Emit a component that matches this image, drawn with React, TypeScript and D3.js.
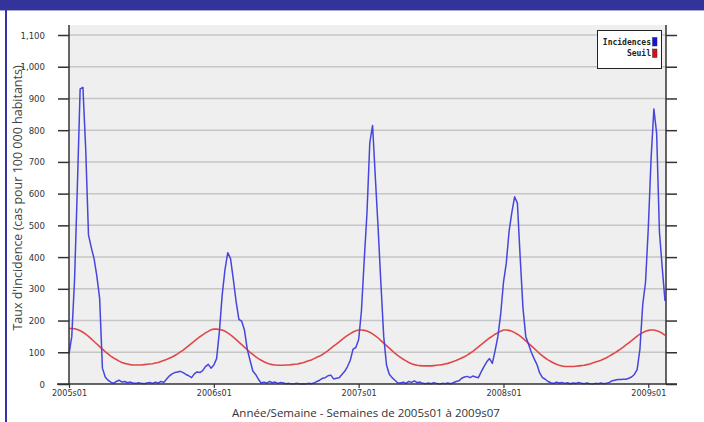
import React, { useEffect, useRef } from "react";
import * as d3 from "d3";

// week index 0 = 2005s01 ... 214 = 2009s07
const yearLabels = ["2005s01", "2006s01", "2007s01", "2008s01", "2009s01"];
const yearStartWeek = [0, 52, 104, 156, 208];
const yTicks = [0, 100, 200, 300, 400, 500, 600, 700, 800, 900, 1000, 1100];

const incidences = [
  // 2005
  94, 150, 330, 620, 930, 935, 740, 470, 430, 395, 340, 270, 50, 22, 12, 6, 2, 8, 12, 6,
  8, 4, 6, 3, 2, 4, 2, 1, 3, 5, 2, 6, 3, 8, 5, 15, 25, 32, 36, 38,
  40, 36, 30, 26, 20, 32, 38, 36, 42, 55, 62, 50,
  // 2006
  60, 80, 165, 280, 360, 414, 395, 330, 260, 204, 198, 170, 110, 75, 41, 30, 15, 3, 6, 3,
  8, 4, 6, 2, 5, 3, 1, 2, 0, 1, 2, 0, 1, 0, 2, 1, 3, 8, 12, 18,
  20, 26, 28, 16, 18, 20, 30, 40, 55, 75, 110, 115,
  // 2007
  140, 230, 390, 540, 760, 815, 650, 490, 315, 150, 60, 31, 20, 12, 4, 3, 6, 2, 8, 5,
  10, 4, 6, 2, 1, 3, 1, 4, 2, 0, 2, 1, 3, 1, 4, 8, 10, 18, 22, 24,
  20, 25, 22, 20, 38, 55, 70, 80, 65, 105, 150, 220,
  // 2008
  320, 380, 480, 540, 590, 570, 400, 240, 150, 125, 100, 80, 62, 35, 20, 15, 8, 4, 2, 6,
  3, 5, 2, 4, 1, 3, 2, 5, 2, 1, 3, 1, 0, 2, 1, 3, 1, 2, 5, 10,
  12, 14, 14, 15, 15, 18, 22, 30, 45, 110, 250, 320,
  // 2009
  490, 710, 867, 790, 480, 367, 262,
];

const seuil = [
  // 2005
  175, 175, 174, 172, 168, 163, 157, 150, 142, 134, 126, 118, 110, 102, 95, 88, 82, 77, 72, 68,
  65, 63, 61, 60, 60, 60, 60, 61, 62, 63, 64, 66, 68, 71, 74, 77, 81, 85, 90, 95,
  101, 107, 114, 121, 128, 135, 142, 149, 155, 161, 166, 171,
  // 2006
  173, 173, 172, 170, 166, 161, 155, 148, 140, 132, 124, 116, 108, 100, 93, 86, 80, 75, 70, 66,
  63, 61, 60, 59, 59, 59, 60, 60, 61, 62, 63, 65, 67, 70, 73, 76, 80, 84, 88, 93,
  99, 105, 112, 119, 126, 133, 140, 147, 153, 159, 164, 168,
  // 2007
  170, 170, 169, 167, 163, 158, 152, 145, 137, 129, 121, 113, 105, 97, 90, 84, 78, 73, 68, 64,
  61, 59, 58, 57, 57, 57, 57, 58, 59, 60, 61, 63, 65, 68, 71, 74, 78, 82, 86, 91,
  97, 103, 110, 117, 124, 131, 138, 145, 151, 157, 162, 166,
  // 2008
  170, 170, 169, 166, 162, 157, 151, 144, 136, 128, 120, 112, 104, 96, 89, 82, 76, 71, 66, 62,
  59, 57, 55, 55, 55, 55, 56, 57, 58, 59, 61, 63, 66, 69, 72, 75, 79, 83, 88, 93,
  98, 104, 110, 116, 123, 130, 137, 144, 151, 157, 162, 166,
  // 2009
  169, 170, 170, 168, 165, 160, 153,
];

export default function App() {
  const ref = useRef<SVGSVGElement | null>(null);

  useEffect(() => {
    const width = 704;
    const height = 422;
    const svg = d3.select(ref.current).attr("width", width).attr("height", height);
    svg.selectAll("*").remove();

    const left = 69;
    const right = 666;
    const top = 25;
    const bottom = 384;
    const narrow = "'Liberation Sans Narrow', 'Arial Narrow', 'DejaVu Sans Condensed', sans-serif";

    const x = d3
      .scaleLinear()
      .domain([0, incidences.length - 1])
      .range([left, right - 1]);
    const y = d3.scaleLinear().domain([0, 1100]).range([bottom, 35]);

    // page frame
    svg.append("rect").attr("width", width).attr("height", height).attr("fill", "#ffffff");
    svg.append("rect").attr("width", width).attr("height", 10).attr("fill", "#333399");
    svg.append("rect").attr("y", 10).attr("width", width).attr("height", 1).attr("fill", "#a8a8d8");
    svg.append("rect").attr("x", 5).attr("y", 10).attr("width", 2).attr("height", height - 10).attr("fill", "#3434a4");

    // plot background
    svg
      .append("rect")
      .attr("x", left)
      .attr("y", top)
      .attr("width", right - left)
      .attr("height", bottom - top)
      .attr("fill", "#efefef");

    // grid
    svg
      .append("g")
      .selectAll("line")
      .data(yTicks.filter((d) => d > 0))
      .join("line")
      .attr("x1", left)
      .attr("x2", right)
      .attr("y1", (d) => y(d))
      .attr("y2", (d) => y(d))
      .attr("stroke", "#c6c6c6")
      .attr("stroke-width", 1.5);

    // lines
    const line = d3
      .line<number>()
      .x((d, i) => x(i))
      .y((d) => y(d));

    svg
      .append("path")
      .datum(seuil)
      .attr("d", line)
      .attr("fill", "none")
      .attr("stroke", "#e04848")
      .attr("stroke-width", 1.6);

    svg
      .append("path")
      .datum(incidences)
      .attr("d", line)
      .attr("fill", "none")
      .attr("stroke", "#4646de")
      .attr("stroke-width", 1.5)
      .attr("stroke-linejoin", "round");

    // axes
    const yAxis = svg
      .append("g")
      .attr("transform", `translate(${left},0)`)
      .call(
        d3
          .axisLeft(y)
          .tickValues(yTicks)
          .tickSize(11)
          .tickSizeOuter(0)
          .tickPadding(13)
          .tickFormat((d) => d3.format(",")(d as number))
      );
    yAxis.select(".domain").remove();
    yAxis.selectAll("line").attr("stroke", "#333").attr("stroke-width", 1.5);
    yAxis
      .selectAll("text")
      .attr("fill", "#333")
      .attr("font-family", narrow)
      .attr("font-size", "9.5px");

    const yAxisR = svg
      .append("g")
      .attr("transform", `translate(${right},0)`)
      .call(d3.axisRight(y).tickValues(yTicks).tickSize(11).tickSizeOuter(0).tickFormat(() => ""));
    yAxisR.select(".domain").remove();
    yAxisR.selectAll("line").attr("stroke", "#333").attr("stroke-width", 1.5);

    svg
      .append("line")
      .attr("x1", left)
      .attr("x2", left)
      .attr("y1", top)
      .attr("y2", bottom)
      .attr("stroke", "#333")
      .attr("stroke-width", 1.5);
    svg
      .append("line")
      .attr("x1", right)
      .attr("x2", right)
      .attr("y1", top)
      .attr("y2", bottom)
      .attr("stroke", "#333")
      .attr("stroke-width", 1.5);

    const xAxis = svg
      .append("g")
      .attr("transform", `translate(0,${bottom})`)
      .call(
        d3
          .axisBottom(x)
          .tickValues(yearStartWeek)
          .tickSize(4)
          .tickSizeOuter(0)
          .tickPadding(2)
          .tickFormat((d, i) => yearLabels[i])
      );
    xAxis.select(".domain").remove();
    xAxis.selectAll("line").attr("stroke", "#333").attr("stroke-width", 1.2);
    xAxis
      .selectAll("text")
      .attr("fill", "#333")
      .attr("font-family", narrow)
      .attr("font-size", "9px");

    svg
      .append("line")
      .attr("x1", 57)
      .attr("x2", 677)
      .attr("y1", bottom)
      .attr("y2", bottom)
      .attr("stroke", "#333")
      .attr("stroke-width", 1.5);

    // legend
    const legend = svg.append("g");
    legend
      .append("rect")
      .attr("x", 597.5)
      .attr("y", 30.5)
      .attr("width", 64)
      .attr("height", 38)
      .attr("fill", "#ffffff")
      .attr("stroke", "#222")
      .attr("stroke-width", 1);
    const items = [
      { label: "Incidences", color: "#1010e8" },
      { label: "Seuil", color: "#d81010" },
    ];
    items.forEach((it, i) => {
      legend
        .append("text")
        .attr("x", 651)
        .attr("y", 44.5 + i * 11.5)
        .attr("text-anchor", "end")
        .attr("font-family", "'DejaVu Sans Mono', 'Liberation Mono', monospace")
        .attr("font-size", "8px")
        .attr("font-weight", "bold")
        .attr("fill", "#222")
        .text(it.label);
      legend
        .append("rect")
        .attr("x", 652.5)
        .attr("y", 37.5 + i * 11.5)
        .attr("width", 4.5)
        .attr("height", 8.5)
        .attr("fill", it.color)
        .attr("stroke", "#333")
        .attr("stroke-width", 0.5);
    });

    // axis titles
    svg
      .append("text")
      .attr("x", 366)
      .attr("y", 417)
      .attr("text-anchor", "middle")
      .attr("font-family", "'Open Sans', sans-serif")
      .attr("font-size", "11.5px")
      .attr("fill", "#333")
      .text("Année/Semaine - Semaines de 2005s01 à 2009s07");

    svg
      .append("text")
      .attr("transform", `translate(22, 198) rotate(-90)`)
      .attr("text-anchor", "middle")
      .attr("font-family", "'Open Sans', sans-serif")
      .attr("font-size", "12.5px")
      .attr("fill", "#444")
      .text("Taux d'incidence (cas pour 100 000 habitants)");
  }, []);

  return <svg ref={ref} style={{ position: "absolute", left: 0, top: 0 }} />;
}
